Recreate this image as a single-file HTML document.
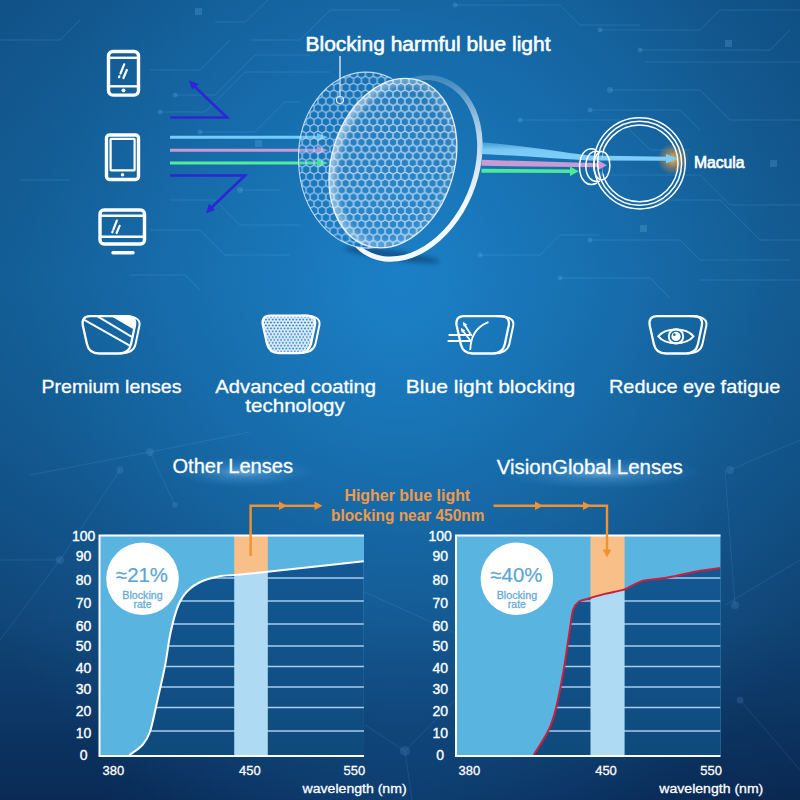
<!DOCTYPE html>
<html><head><meta charset="utf-8">
<style>
html,body{margin:0;padding:0;width:800px;height:800px;overflow:hidden;}
body{background:
radial-gradient(500px 600px at 400px 280px, rgba(30,140,215,0.77) 0%, rgba(30,140,215,0.7) 10%, rgba(30,140,215,0.55) 27%, rgba(30,140,215,0.4) 45%, rgba(30,140,215,0.27) 60%, rgba(30,140,215,0.14) 75%, rgba(30,140,215,0.07) 88%, rgba(30,140,215,0) 100%),
radial-gradient(320px 140px at 410px 800px, rgba(30,120,200,0.16), rgba(30,120,200,0)),
linear-gradient(to right, rgba(0,0,0,0) 600px, rgba(0,0,0,0.04) 800px),
linear-gradient(to bottom, rgb(16,79,131) 0px, rgb(18,88,142) 280px, rgb(17,82,134) 430px, rgb(16,69,119) 620px, rgb(9,42,85) 800px);}
svg{display:block;}
text{font-family:"Liberation Sans",sans-serif;}
</style></head>
<body>
<svg width="800" height="800" viewBox="0 0 800 800">
<defs>
  <linearGradient id="bgv" x1="0" y1="0" x2="0" y2="1">
    <stop offset="0" stop-color="#155a9c"/>
    <stop offset="0.45" stop-color="#1a6ab4"/>
    <stop offset="0.75" stop-color="#134f90"/>
    <stop offset="1" stop-color="#0e3b72"/>
  </linearGradient>
  <radialGradient id="bgr" cx="430" cy="220" r="420" gradientUnits="userSpaceOnUse">
    <stop offset="0" stop-color="#2286d8" stop-opacity="0.95"/>
    <stop offset="0.5" stop-color="#1d78c6" stop-opacity="0.5"/>
    <stop offset="1" stop-color="#1d78c6" stop-opacity="0"/>
  </radialGradient>
  <pattern id="hex" width="7.8" height="13.5" patternUnits="userSpaceOnUse">
    <path d="M3.9,0.5 L7.3,2.5 L7.3,6.3 L3.9,8.3 L0.5,6.3 L0.5,2.5 Z M0,9.2 L0,12.8 M7.8,9.2 L7.8,12.8" fill="none" stroke="#dff0ff" stroke-width="1.1" stroke-opacity="0.8"/>
  </pattern>
  <pattern id="dots" width="3.4" height="5.8" patternUnits="userSpaceOnUse" x="0.5" y="0.5">
    <rect width="3.4" height="5.8" fill="#eaf5ff"/>
    <circle cx="1.7" cy="1.45" r="1.05" fill="#2f80c8"/>
    <circle cx="0" cy="4.35" r="1.05" fill="#2f80c8"/>
    <circle cx="3.4" cy="4.35" r="1.05" fill="#2f80c8"/>
  </pattern>
  <radialGradient id="glow" cx="0.5" cy="0.5" r="0.5">
    <stop offset="0" stop-color="#ffb040" stop-opacity="1"/>
    <stop offset="0.4" stop-color="#f09a30" stop-opacity="0.7"/>
    <stop offset="1" stop-color="#f09a30" stop-opacity="0"/>
  </radialGradient>
  <radialGradient id="tglow" cx="0.5" cy="0.5" r="0.5">
    <stop offset="0" stop-color="#b4dcff" stop-opacity="0.55"/>
    <stop offset="0.35" stop-color="#78c0f4" stop-opacity="0.3"/>
    <stop offset="1" stop-color="#4aa0e6" stop-opacity="0"/>
  </radialGradient>
</defs>

<!-- background -->

<!-- circuit traces -->
<g fill="none" stroke="#7cc4ff" stroke-opacity="0.16" stroke-width="1">
  <path d="M160,112 L205,112 L245,72 L330,72"/>
  <path d="M175,95 L215,95 L255,55 L310,55"/>
  <path d="M200,132 L255,132 L285,102 L300,102"/>
  <path d="M215,22 L245,22 L268,0"/>
  <path d="M250,40 L300,40 L330,10 L400,10"/>
  <path d="M150,70 L200,70 L230,40"/>
  <path d="M170,200 L215,200 L240,225 L300,225"/>
  <path d="M150,230 L200,230 L225,255 L290,255"/>
  <path d="M130,275 L185,275 L200,290"/>
  <path d="M240,190 L280,190"/>
  <path d="M455,5 L560,5 L580,25 L640,25"/>
  <path d="M600,30 L700,30 L720,10 L800,10"/>
  <path d="M640,50 L770,50 L790,30"/>
  <path d="M645,62 L800,62"/>
  <path d="M610,90 L700,90 L730,120 L800,120"/>
  <path d="M590,110 L680,110 L700,130"/>
  <path d="M520,120 L620,120 L650,150 L690,150"/>
  <path d="M600,175 L700,175 L730,205 L800,205"/>
  <path d="M660,200 L720,200 L760,240 L800,240"/>
  <path d="M590,240 L680,240 L700,260 L790,260"/>
  <path d="M560,278 L650,278 L670,298"/>
  <path d="M700,280 L800,280"/>
  <path d="M480,255 L540,255 L560,235 L600,235"/>
  <path d="M0,40 L60,40 L80,20"/>
  <path d="M20,180 L70,180"/>
</g>
<g fill="#8fd0ff" fill-opacity="0.18">
  <circle cx="160" cy="112" r="2.5"/><circle cx="175" cy="95" r="2.5"/><circle cx="200" cy="132" r="2.5"/><circle cx="240" cy="190" r="3"/>
  <circle cx="600" cy="30" r="2.5"/><circle cx="640" cy="50" r="2.5"/><circle cx="610" cy="90" r="3"/><circle cx="590" cy="110" r="2.5"/>
  <circle cx="520" cy="120" r="2.5"/><circle cx="600" cy="175" r="2.5"/><circle cx="660" cy="200" r="3"/><circle cx="590" cy="240" r="2.5"/>
  <circle cx="560" cy="278" r="2.5"/><circle cx="480" cy="255" r="2.5"/><circle cx="455" cy="5" r="2.5"/>
  <rect x="725" y="40" width="7" height="7"/><rect x="770" y="160" width="7" height="7"/><rect x="640" y="225" width="7" height="7"/>
  <rect x="255" y="140" width="7" height="7"/><rect x="195" y="8" width="7" height="7"/>
</g>

<!-- faint network -->
<g fill="none" stroke="#8cc8ff" stroke-opacity="0.12" stroke-width="1">
  <path d="M360,590 L460,635"/>
  <path d="M365,725 L405,751 L455,700"/>
  <path d="M405,751 L412,800"/>
  <path d="M0,640 L60,560 L120,470"/>
  <path d="M30,475 L150,452 L250,432"/>
  <path d="M150,452 L175,505"/>
  <path d="M0,560 L60,560"/>
  <path d="M730,470 L800,440"/>
  <path d="M725,605 L800,560"/>
  <path d="M740,700 L800,770"/>
  <path d="M725,470 L735,605"/>
</g>
<g fill="#7cc0ff" fill-opacity="0.14">
  <circle cx="405" cy="751" r="5"/><circle cx="150" cy="452" r="4"/><circle cx="60" cy="560" r="4"/><circle cx="120" cy="470" r="3.5"/>
  <circle cx="730" cy="470" r="4"/><circle cx="735" cy="605" r="4"/><circle cx="740" cy="700" r="3.5"/><circle cx="175" cy="505" r="3"/>
</g>

<!-- TOP: title -->
<text x="305.5" y="51" font-size="19.5" fill="#fff" stroke="#fff" stroke-width="0.55" textLength="245" lengthAdjust="spacingAndGlyphs">Blocking harmful blue light</text>
<line x1="340" y1="56" x2="340" y2="96" stroke="#fff" stroke-width="1.2"/>
<circle cx="340" cy="100" r="3.5" fill="none" stroke="#fff" stroke-width="1.2"/>

<!-- devices -->
<g fill="none" stroke="#fff" stroke-width="3.4">
  <rect x="108.5" y="51.5" width="30" height="43.6" rx="4.5"/>
  <rect x="106.5" y="135" width="32" height="44.5" rx="3"/>
  <rect x="100" y="210" width="44.5" height="34" rx="4"/>
</g>
<g fill="none" stroke="#fff" stroke-width="2.4">
  <line x1="109" y1="57.8" x2="138" y2="57.8"/>
  <line x1="109" y1="86.3" x2="138" y2="86.3"/>
  <rect x="110.6" y="138.8" width="24" height="31.5" rx="0.5" stroke-width="2.2"/>
  <line x1="101" y1="215.8" x2="144" y2="215.8"/>
  <line x1="101" y1="236.8" x2="144" y2="236.8"/>
</g>
<g fill="#fff">
  <circle cx="123.5" cy="90.3" r="1.9"/>
  <circle cx="122.5" cy="174.8" r="1.7"/>
  <rect x="111.3" y="251" width="23.4" height="3.4" rx="1.7"/>
</g>
<g stroke="#fff" stroke-width="2.2" stroke-linecap="round">
  <line x1="120.5" y1="73.5" x2="124.2" y2="64.3"/><line x1="119" y1="77.2" x2="119.4" y2="76.3"/>
  <line x1="123.4" y1="78" x2="126.8" y2="70"/>
  <line x1="113.4" y1="229.5" x2="116.8" y2="220.6"/><line x1="112.3" y1="232.3" x2="112.6" y2="231.5"/>
  <line x1="116.6" y1="233" x2="119.6" y2="225.8"/>
</g>

<!-- dark arrows -->
<g fill="none" stroke="#2c26d8" stroke-width="2.6" stroke-linejoin="miter">
  <polyline points="170,117.5 227,117.5 193,85"/>
  <polyline points="170,175.5 245,175.5 210,209"/>
</g>
<g fill="#2c26d8">
  <path d="M189,80.5 L199,84 L192,89.5 Z"/>
  <path d="M206,213.5 L209,203.5 L215,210 Z"/>
</g>

<!-- incoming colored rays -->
<g stroke-width="3">
  <line x1="170" y1="137.3" x2="320" y2="137.3" stroke="#72cdfc"/>
  <line x1="170" y1="150.3" x2="320" y2="150.3" stroke="#c59bd6"/>
  <line x1="170" y1="163" x2="320" y2="163" stroke="#52ec9c"/>
</g>
<path d="M317,133 L328,137.3 L317,141.6 Z" fill="#72cdfc"/>
<path d="M317,146 L328,150.3 L317,154.6 Z" fill="#c59bd6"/>
<path d="M317,158.7 L328,163 L317,167.3 Z" fill="#52ec9c"/>

<!-- LENS -->
<defs>
  <pattern id="hex2" width="7.9" height="13.680" patternUnits="userSpaceOnUse" x="2" y="1">
    <path d="M3.95,0 L7.9,2.280 L7.9,6.840 L3.95,9.120 L0,6.840 L0,2.280 Z M3.95,9.120 L3.95,13.680" fill="none" stroke="#c4e4ff" stroke-width="1.2"/>
  </pattern>
  <clipPath id="hexclip"><ellipse cx="367.2" cy="160.1" rx="68.7" ry="88" transform="rotate(-2 367.2 160.1)"/><ellipse cx="392.9" cy="163.1" rx="61.2" ry="86.7" transform="rotate(17.1 392.9 163.1)"/></clipPath>
  <clipPath id="faceclip"><ellipse cx="392.9" cy="163.1" rx="61.2" ry="86.7" transform="rotate(17.1 392.9 163.1)"/></clipPath>
  <mask id="outsideFront"><rect width="800" height="800" fill="#fff"/><ellipse cx="392.9" cy="163.1" rx="61.2" ry="86.7" transform="rotate(17.1 392.9 163.1)" fill="#000"/></mask>
  <filter id="blur3" x="-20%" y="-20%" width="140%" height="140%"><feGaussianBlur stdDeviation="3"/></filter>
  <filter id="blur2" x="-50%" y="-50%" width="200%" height="200%"><feGaussianBlur stdDeviation="2"/></filter>
  <linearGradient id="edgeg" x1="330" y1="0" x2="460" y2="0" gradientUnits="userSpaceOnUse">
    <stop offset="0" stop-color="#fff" stop-opacity="0.95"/>
    <stop offset="0.5" stop-color="#fff" stop-opacity="0.5"/>
    <stop offset="1" stop-color="#fff" stop-opacity="0.1"/>
  </linearGradient>
</defs>
<ellipse cx="392" cy="255" rx="48" ry="4.5" transform="rotate(8 392 255)" fill="#0b3a6c" opacity="0.6" filter="url(#blur2)"/>
<mask id="crescent"><rect width="800" height="800" fill="#000"/><ellipse cx="409" cy="168.5" rx="68.5" ry="97.1" transform="rotate(23 409 168.5)" fill="#fff"/><ellipse cx="407.5" cy="168.25" rx="64.9" ry="91.9" transform="rotate(23 407.5 168.25)" fill="#000"/><ellipse cx="392.9" cy="163.1" rx="61.2" ry="86.7" transform="rotate(17.1 392.9 163.1)" fill="#000"/><ellipse cx="367.2" cy="160.1" rx="68.7" ry="88" transform="rotate(-2 367.2 160.1)" fill="#000"/></mask>
<linearGradient id="rimg" x1="0" y1="80" x2="0" y2="200" gradientUnits="userSpaceOnUse"><stop offset="0" stop-color="#e6f2fc" stop-opacity="0.22"/><stop offset="0.45" stop-color="#eef6fd" stop-opacity="0.75"/><stop offset="1" stop-color="#f2f8fe" stop-opacity="1"/></linearGradient>
<rect x="330" y="70" width="170" height="200" fill="url(#rimg)" mask="url(#crescent)"/>
<ellipse cx="367.2" cy="160.1" rx="68.7" ry="88" transform="rotate(-2 367.2 160.1)" fill="#2a88d6" fill-opacity="0.15"/>
<rect x="290" y="70" width="180" height="190" fill="url(#hex2)" clip-path="url(#hexclip)" opacity="0.78"/>
<ellipse cx="367.2" cy="160.1" rx="68.7" ry="88" transform="rotate(-2 367.2 160.1)" fill="none" stroke="#d8ecff" stroke-width="1.1" stroke-opacity="0.85" mask="url(#outsideFront)"/>
<g clip-path="url(#faceclip)">
  <ellipse cx="392.9" cy="163.1" rx="61.2" ry="86.7" transform="rotate(17.1 392.9 163.1)" fill="#ffffff" fill-opacity="0.07"/>
  <rect x="320" y="70" width="150" height="190" fill="url(#hex2)" opacity="0.35"/>
  <ellipse cx="392.9" cy="163.1" rx="61.2" ry="86.7" transform="rotate(17.1 392.9 163.1)" fill="none" stroke="url(#edgeg)" stroke-width="14" filter="url(#blur3)" opacity="0.55"/>
</g>
<ellipse cx="392.9" cy="163.1" rx="61.2" ry="86.7" transform="rotate(17.1 392.9 163.1)" fill="none" stroke="#f4faff" stroke-width="1.3" stroke-opacity="0.9"/>

<!-- outgoing beams -->
<defs>
  <linearGradient id="beamg" x1="0" y1="142" x2="0" y2="156" gradientUnits="userSpaceOnUse">
    <stop offset="0" stop-color="#8ad6ff" stop-opacity="0.35"/>
    <stop offset="0.55" stop-color="#82d2fb" stop-opacity="0.9"/>
    <stop offset="1" stop-color="#7ccdf8" stop-opacity="1"/>
  </linearGradient>
  <radialGradient id="glow2" cx="0.5" cy="0.5" r="0.5">
    <stop offset="0" stop-color="#ffc060" stop-opacity="0.95"/>
    <stop offset="0.45" stop-color="#e89a3a" stop-opacity="0.55"/>
    <stop offset="1" stop-color="#d08a40" stop-opacity="0"/>
  </radialGradient>
</defs>
<circle cx="673" cy="159" r="16" fill="url(#glow2)"/>
<path d="M481.5,142.3 C520,145 555,151 590,155.6 L668,156.8 L668,160.8 L590,160.6 C555,158.5 520,155.5 481.5,154 Z" fill="url(#beamg)"/>
<path d="M666,154 L677.5,158.8 L666,163.6 Z" fill="#7ccdf8"/>
<path d="M481.5,159.8 L600,163.3 L600,167.3 L481.5,165.8 Z" fill="#c89bd3"/>
<path d="M598,160.3 L607,165.2 L598,170.1 Z" fill="#c89bd3"/>
<path d="M481.5,168.8 L572,169.4 L572,173 L481.5,172.8 Z" fill="#4ee89a"/>
<path d="M570,166.5 L578.8,171.2 L570,175.9 Z" fill="#4ee89a"/>

<!-- eye -->
<defs><clipPath id="eyeR"><rect x="602.5" y="100" width="100" height="130"/></clipPath></defs>
<g fill="none" stroke="#fff" stroke-width="1.5">
  <circle cx="639.6" cy="163.3" r="45.6"/>
  <circle cx="639.6" cy="163.3" r="42"/>
  <circle cx="639.6" cy="163.3" r="38.4" clip-path="url(#eyeR)"/>
  <path d="M596,150 C588,146 580,152 579.5,166 C579.5,180 587,188 597,183"/>
  <path d="M600,152 C592,149 586,155 585.8,166.5 C586,177 592,183 600,181"/>
  <ellipse cx="601.8" cy="165.6" rx="8.1" ry="14.2"/>
</g>
<text x="694" y="167.5" font-size="16.5" fill="#fff" stroke="#fff" stroke-width="0.7" textLength="50.5" lengthAdjust="spacingAndGlyphs">Macula</text>


<!-- FEATURE ICONS -->
<defs>
  <path id="lshape" d="M8,0.8 L45,0.8 C51,0.8 54,4 53,10 L49,29 C47.5,35.5 44,38.2 37,38.2 L17,38.2 C10,38.2 6.5,35.5 5,29 L0.8,10 C-0.2,4 2.5,0.8 8,0.8 Z"/>
  <clipPath id="lclip"><path d="M8,0.8 L45,0.8 C51,0.8 54,4 53,10 L49,29 C47.5,35.5 44,38.2 37,38.2 L17,38.2 C10,38.2 6.5,35.5 5,29 L0.8,10 C-0.2,4 2.5,0.8 8,0.8 Z"/></clipPath>
</defs>
<g transform="translate(82,315.3)">
  <g clip-path="url(#lclip)">
    <path d="M27.7,0 L54,0 L54,15.5 Z" fill="#fff"/>
    <g stroke="#fff" stroke-width="2"><line x1="0" y1="3.3" x2="50" y2="31.5"/><line x1="13" y1="-0.5" x2="54" y2="24"/></g>
  </g>
  <use href="#lshape" fill="none" stroke="#fff" stroke-width="2.3"/>
  <path d="M40,0.8 C52,0.8 58.5,3 57.5,10 L53.5,29 C52,35.5 47,38.2 38,38.2" fill="none" stroke="#fff" stroke-width="2"/>
</g>
<g transform="translate(262,314.8)">
  <use href="#lshape" fill="url(#dots)"/>
  <use href="#lshape" fill="none" stroke="#fff" stroke-width="2.3"/>
  <path d="M40,0.8 C52,0.8 58.5,3 57.5,10 L53.5,29 C52,35.5 47,38.2 38,38.2" fill="none" stroke="#fff" stroke-width="2"/>
</g>
<g transform="translate(455.8,315.3)">
  <use href="#lshape" fill="none" stroke="#fff" stroke-width="2.3"/>
  <path d="M40,0.8 C52,0.8 58.5,3 57.5,10 L53.5,29 C52,35.5 47,38.2 38,38.2" fill="none" stroke="#fff" stroke-width="2"/>
  <g fill="none" stroke="#fff" stroke-width="1.8" stroke-linecap="round">
    <path d="M32,7 C22,11 15,20 14.5,34"/>
    <line x1="-6.5" y1="19.7" x2="14" y2="19.7"/>
    <line x1="-7.5" y1="25.7" x2="15" y2="25.7"/>
    <line x1="15.5" y1="20" x2="8.5" y2="9"/>
    <line x1="14" y1="24.5" x2="6.5" y2="15"/>
  </g>
  <g fill="#fff"><path d="M7,6.5 L11.5,9.5 L8,11.5 Z"/><path d="M5,12.5 L9.5,15.5 L6,17.5 Z"/></g>
</g>
<g transform="translate(648.9,315.3)">
  <use href="#lshape" fill="none" stroke="#fff" stroke-width="2.3"/>
  <path d="M40,0.8 C52,0.8 58.5,3 57.5,10 L53.5,29 C52,35.5 47,38.2 38,38.2" fill="none" stroke="#fff" stroke-width="2"/>
  <path d="M9.4,21.1 C17,12 37,12 44.6,21.1 C37,30.2 17,30.2 9.4,21.1 Z" fill="none" stroke="#fff" stroke-width="2"/>
  <circle cx="27.1" cy="21.1" r="7.2" fill="none" stroke="#fff" stroke-width="2"/>
  <circle cx="27.1" cy="21.1" r="4.6" fill="#fff"/>
  <circle cx="25.4" cy="19.4" r="1.4" fill="#2a6fb8"/>
</g>

<!-- FEATURE LABELS -->
<g font-size="19" fill="#fff" stroke="#fff" stroke-width="0.3">
  <text x="41.5" y="393.3" textLength="140" lengthAdjust="spacingAndGlyphs">Premium lenses</text>
  <text x="215.3" y="393.3" textLength="160.7" lengthAdjust="spacingAndGlyphs">Advanced coating</text>
  <text x="245.3" y="412" textLength="99.5" lengthAdjust="spacingAndGlyphs">technology</text>
  <text x="405.8" y="393.3" textLength="169.5" lengthAdjust="spacingAndGlyphs">Blue light blocking</text>
  <text x="609" y="393.3" textLength="171.3" lengthAdjust="spacingAndGlyphs">Reduce eye fatigue</text>
</g>

<!-- CHARTS -->
<defs><linearGradient id="darkg" x1="0" y1="570" x2="0" y2="755" gradientUnits="userSpaceOnUse"><stop offset="0" stop-color="#135893"/><stop offset="1" stop-color="#0f4a7c"/></linearGradient></defs><defs><clipPath id="clb"><path d="M129.4,755.0 C131.6,753.3 139.1,748.9 142.5,745.0 C145.9,741.1 147.5,739.3 150.0,731.8 C152.5,724.3 155.0,711.0 157.5,700.0 C160.0,689.0 162.8,677.2 165.0,666.0 C167.2,654.8 168.4,642.5 170.6,632.5 C172.8,622.5 175.2,612.9 178.0,606.0 C180.8,599.1 183.4,595.2 187.5,591.0 C191.6,586.8 196.9,583.5 202.5,581.0 C208.1,578.5 215.7,577.0 221.0,576.0 C226.3,575.0 226.7,575.7 234.4,575.0 C242.1,574.3 245.8,574.0 267.4,571.7 C288.9,569.4 347.6,563.0 363.7,561.2 L364,755 L129.4,755 Z"/></clipPath><clipPath id="cla"><path d="M129.4,755.0 C131.6,753.3 139.1,748.9 142.5,745.0 C145.9,741.1 147.5,739.3 150.0,731.8 C152.5,724.3 155.0,711.0 157.5,700.0 C160.0,689.0 162.8,677.2 165.0,666.0 C167.2,654.8 168.4,642.5 170.6,632.5 C172.8,622.5 175.2,612.9 178.0,606.0 C180.8,599.1 183.4,595.2 187.5,591.0 C191.6,586.8 196.9,583.5 202.5,581.0 C208.1,578.5 215.7,577.0 221.0,576.0 C226.3,575.0 226.7,575.7 234.4,575.0 C242.1,574.3 245.8,574.0 267.4,571.7 C288.9,569.4 347.6,563.0 363.7,561.2 L364,535.5 L99.5,535.5 L99.5,755 Z"/></clipPath></defs>
<rect x="99.5" y="535.5" width="264.5" height="219.5" fill="#5ab4e0"/>
<path d="M129.4,755.0 C131.6,753.3 139.1,748.9 142.5,745.0 C145.9,741.1 147.5,739.3 150.0,731.8 C152.5,724.3 155.0,711.0 157.5,700.0 C160.0,689.0 162.8,677.2 165.0,666.0 C167.2,654.8 168.4,642.5 170.6,632.5 C172.8,622.5 175.2,612.9 178.0,606.0 C180.8,599.1 183.4,595.2 187.5,591.0 C191.6,586.8 196.9,583.5 202.5,581.0 C208.1,578.5 215.7,577.0 221.0,576.0 C226.3,575.0 226.7,575.7 234.4,575.0 C242.1,574.3 245.8,574.0 267.4,571.7 C288.9,569.4 347.6,563.0 363.7,561.2 L364,755 L129.4,755 Z" fill="url(#darkg)"/>
<g clip-path="url(#clb)" stroke="#a8cdee" stroke-width="1.5">
<line x1="99.5" y1="578" x2="364" y2="578"/>
<line x1="99.5" y1="601" x2="364" y2="601"/>
<line x1="99.5" y1="624" x2="364" y2="624"/>
<line x1="99.5" y1="646" x2="364" y2="646"/>
<line x1="99.5" y1="666.5" x2="364" y2="666.5"/>
<line x1="99.5" y1="687" x2="364" y2="687"/>
<line x1="99.5" y1="707.5" x2="364" y2="707.5"/>
<line x1="99.5" y1="731" x2="364" y2="731"/>
</g>
<rect x="234.2" y="535.5" width="33.60000000000002" height="219.5" fill="#f9bf88" clip-path="url(#cla)"/>
<rect x="234.2" y="535.5" width="33.60000000000002" height="219.5" fill="#afdaf3" clip-path="url(#clb)"/>
<path d="M129.4,755.0 C131.6,753.3 139.1,748.9 142.5,745.0 C145.9,741.1 147.5,739.3 150.0,731.8 C152.5,724.3 155.0,711.0 157.5,700.0 C160.0,689.0 162.8,677.2 165.0,666.0 C167.2,654.8 168.4,642.5 170.6,632.5 C172.8,622.5 175.2,612.9 178.0,606.0 C180.8,599.1 183.4,595.2 187.5,591.0 C191.6,586.8 196.9,583.5 202.5,581.0 C208.1,578.5 215.7,577.0 221.0,576.0 C226.3,575.0 226.7,575.7 234.4,575.0 C242.1,574.3 245.8,574.0 267.4,571.7 C288.9,569.4 347.6,563.0 363.7,561.2" fill="none" stroke="#fff" stroke-width="2"/>
<path d="M99.5,535.5 L364,535.5 M99.5,534.5 L99.5,756 L364,756" fill="none" stroke="#fff" stroke-width="2"/>
<circle cx="142.5" cy="578.8" r="36.3" fill="#fff"/>
<text x="116.0" y="582" font-size="20" fill="#5aa6d2" stroke="#5aa6d2" stroke-width="0.2" textLength="52" lengthAdjust="spacingAndGlyphs">≈21%</text>
<text x="122.3" y="599" font-size="10.5" fill="#6aacd2" stroke="#6aacd2" stroke-width="0.3" textLength="40.4" lengthAdjust="spacingAndGlyphs">Blocking</text>
<text x="142.5" y="608" font-size="10.5" fill="#6aacd2" stroke="#6aacd2" stroke-width="0.3" text-anchor="middle">rate</text>
<g font-size="14" fill="#fff" stroke="#fff" stroke-width="0.35" text-anchor="middle">
<text x="83.6" y="541.2">100</text>
<text x="83.6" y="561">90</text>
<text x="83.6" y="584.5">80</text>
<text x="83.6" y="608.2">70</text>
<text x="83.6" y="631">60</text>
<text x="83.6" y="651.3">50</text>
<text x="83.6" y="673.2">40</text>
<text x="83.6" y="694.2">30</text>
<text x="83.6" y="716.4">20</text>
<text x="83.6" y="738.3">10</text>
<text x="83.6" y="760.2">0</text>
</g>
<g font-size="13.5" fill="#fff" stroke="#fff" stroke-width="0.3">
<text x="102.5" y="775.4" textLength="21.6" lengthAdjust="spacingAndGlyphs">380</text>
<text x="239" y="775.4" textLength="21.6" lengthAdjust="spacingAndGlyphs">450</text>
<text x="343.6" y="775.4" textLength="21.6" lengthAdjust="spacingAndGlyphs">550</text>
<text x="302.6" y="793" textLength="104" lengthAdjust="spacingAndGlyphs">wavelength (nm)</text>
</g>
<defs><clipPath id="crb"><path d="M533.7,755.0 C536.2,750.8 545.0,737.9 548.7,730.0 C552.5,722.1 553.7,717.5 556.2,707.5 C558.7,697.5 561.5,682.5 563.7,670.0 C565.9,657.5 567.8,642.5 569.4,632.5 C571.0,622.5 571.5,615.1 573.1,610.0 C574.7,604.9 576.2,603.6 578.7,601.7 C581.2,599.8 583.6,600.0 588.0,598.7 C592.4,597.4 598.9,595.5 605.0,593.9 C611.1,592.3 618.2,591.5 624.5,589.4 C630.8,587.2 635.8,582.9 642.5,581.0 C649.2,579.1 656.2,579.5 665.0,578.0 C673.8,576.5 685.8,573.4 695.0,571.7 C704.2,570.0 716.2,568.6 720.5,568.0 L720.5,755 L533.7,755 Z"/></clipPath><clipPath id="cra"><path d="M533.7,755.0 C536.2,750.8 545.0,737.9 548.7,730.0 C552.5,722.1 553.7,717.5 556.2,707.5 C558.7,697.5 561.5,682.5 563.7,670.0 C565.9,657.5 567.8,642.5 569.4,632.5 C571.0,622.5 571.5,615.1 573.1,610.0 C574.7,604.9 576.2,603.6 578.7,601.7 C581.2,599.8 583.6,600.0 588.0,598.7 C592.4,597.4 598.9,595.5 605.0,593.9 C611.1,592.3 618.2,591.5 624.5,589.4 C630.8,587.2 635.8,582.9 642.5,581.0 C649.2,579.1 656.2,579.5 665.0,578.0 C673.8,576.5 685.8,573.4 695.0,571.7 C704.2,570.0 716.2,568.6 720.5,568.0 L720.5,535.5 L456,535.5 L456,755 Z"/></clipPath></defs>
<rect x="456" y="535.5" width="264.5" height="219.5" fill="#5ab4e0"/>
<path d="M533.7,755.0 C536.2,750.8 545.0,737.9 548.7,730.0 C552.5,722.1 553.7,717.5 556.2,707.5 C558.7,697.5 561.5,682.5 563.7,670.0 C565.9,657.5 567.8,642.5 569.4,632.5 C571.0,622.5 571.5,615.1 573.1,610.0 C574.7,604.9 576.2,603.6 578.7,601.7 C581.2,599.8 583.6,600.0 588.0,598.7 C592.4,597.4 598.9,595.5 605.0,593.9 C611.1,592.3 618.2,591.5 624.5,589.4 C630.8,587.2 635.8,582.9 642.5,581.0 C649.2,579.1 656.2,579.5 665.0,578.0 C673.8,576.5 685.8,573.4 695.0,571.7 C704.2,570.0 716.2,568.6 720.5,568.0 L720.5,755 L533.7,755 Z" fill="url(#darkg)"/>
<g clip-path="url(#crb)" stroke="#a8cdee" stroke-width="1.5">
<line x1="456" y1="578" x2="720.5" y2="578"/>
<line x1="456" y1="601" x2="720.5" y2="601"/>
<line x1="456" y1="624" x2="720.5" y2="624"/>
<line x1="456" y1="646" x2="720.5" y2="646"/>
<line x1="456" y1="666.5" x2="720.5" y2="666.5"/>
<line x1="456" y1="687" x2="720.5" y2="687"/>
<line x1="456" y1="707.5" x2="720.5" y2="707.5"/>
<line x1="456" y1="731" x2="720.5" y2="731"/>
</g>
<rect x="590.5" y="535.5" width="34.10000000000002" height="219.5" fill="#f9bf88" clip-path="url(#cra)"/>
<rect x="590.5" y="535.5" width="34.10000000000002" height="219.5" fill="#afdaf3" clip-path="url(#crb)"/>
<path d="M533.7,755.0 C536.2,750.8 545.0,737.9 548.7,730.0 C552.5,722.1 553.7,717.5 556.2,707.5 C558.7,697.5 561.5,682.5 563.7,670.0 C565.9,657.5 567.8,642.5 569.4,632.5 C571.0,622.5 571.5,615.1 573.1,610.0 C574.7,604.9 576.2,603.6 578.7,601.7 C581.2,599.8 583.6,600.0 588.0,598.7 C592.4,597.4 598.9,595.5 605.0,593.9 C611.1,592.3 618.2,591.5 624.5,589.4 C630.8,587.2 635.8,582.9 642.5,581.0 C649.2,579.1 656.2,579.5 665.0,578.0 C673.8,576.5 685.8,573.4 695.0,571.7 C704.2,570.0 716.2,568.6 720.5,568.0" fill="none" stroke="#c8203c" stroke-width="2"/>
<path d="M456,535.5 L720.5,535.5 M456,534.5 L456,756 L720.5,756" fill="none" stroke="#fff" stroke-width="2"/>
<circle cx="516.9" cy="578.8" r="36.3" fill="#fff"/>
<text x="490.4" y="582" font-size="20" fill="#5aa6d2" stroke="#5aa6d2" stroke-width="0.2" textLength="52" lengthAdjust="spacingAndGlyphs">≈40%</text>
<text x="496.7" y="599" font-size="10.5" fill="#6aacd2" stroke="#6aacd2" stroke-width="0.3" textLength="40.4" lengthAdjust="spacingAndGlyphs">Blocking</text>
<text x="516.9" y="608" font-size="10.5" fill="#6aacd2" stroke="#6aacd2" stroke-width="0.3" text-anchor="middle">rate</text>
<g font-size="14" fill="#fff" stroke="#fff" stroke-width="0.35" text-anchor="middle">
<text x="440.2" y="541.2">100</text>
<text x="440.2" y="561">90</text>
<text x="440.2" y="584.5">80</text>
<text x="440.2" y="608.2">70</text>
<text x="440.2" y="631">60</text>
<text x="440.2" y="651.3">50</text>
<text x="440.2" y="673.2">40</text>
<text x="440.2" y="694.2">30</text>
<text x="440.2" y="716.4">20</text>
<text x="440.2" y="738.3">10</text>
<text x="440.2" y="760.2">0</text>
</g>
<g font-size="13.5" fill="#fff" stroke="#fff" stroke-width="0.3">
<text x="458.5" y="775.4" textLength="21.6" lengthAdjust="spacingAndGlyphs">380</text>
<text x="595.2" y="775.4" textLength="21.6" lengthAdjust="spacingAndGlyphs">450</text>
<text x="700.3" y="775.4" textLength="21.6" lengthAdjust="spacingAndGlyphs">550</text>
<text x="659.3" y="793" textLength="104" lengthAdjust="spacingAndGlyphs">wavelength (nm)</text>
</g>

<ellipse cx="244" cy="472" rx="70" ry="15" fill="url(#tglow)"/>
<ellipse cx="602" cy="473" rx="100" ry="16" fill="url(#tglow)"/>
<text x="172.5" y="473.4" font-size="20.5" fill="#fff" stroke="#fff" stroke-width="0.3" textLength="120.5" lengthAdjust="spacingAndGlyphs">Other Lenses</text>
<text x="496.8" y="473.9" font-size="20.5" fill="#fff" stroke="#fff" stroke-width="0.3" textLength="186" lengthAdjust="spacingAndGlyphs">VisionGlobal Lenses</text>
<g font-size="16.5" font-weight="bold" fill="#ee9a4a">
<text x="344.4" y="501.4" textLength="125.8" lengthAdjust="spacingAndGlyphs">Higher blue light</text>
<text x="331" y="521" textLength="153.4" lengthAdjust="spacingAndGlyphs">blocking near 450nm</text>
</g>
<g fill="none" stroke="#f0922e" stroke-width="2.4">
<polyline points="250.6,556 250.6,505.8 280,505.8"/>
<line x1="284" y1="505.8" x2="316" y2="505.8"/>
<line x1="493.5" y1="505.8" x2="536" y2="505.8"/>
<polyline points="540,505.8 607,505.8 607,550"/>
</g>
<g fill="#f0922e">
<path d="M279,501.5 L287,505.8 L279,510.1 Z"/>
<path d="M314.5,501.5 L322.5,505.8 L314.5,510.1 Z"/>
<path d="M535,501.5 L543,505.8 L535,510.1 Z"/>
<path d="M583,501.5 L591,505.8 L583,510.1 Z"/>
<path d="M602.7,549.5 L607,557.5 L611.3,549.5 Z"/>
</g>

</svg>
</body></html>
